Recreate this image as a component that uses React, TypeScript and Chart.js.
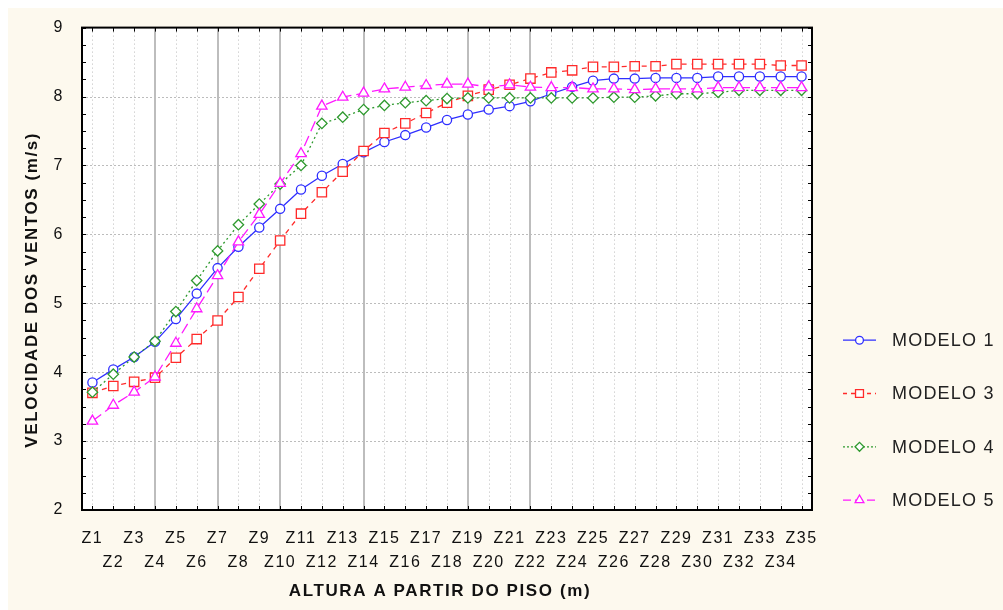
import React, { useEffect, useRef } from 'react';
import { Chart, registerables } from 'chart.js';
import { drawPoint } from 'chart.js/helpers';

Chart.register(...registerables);

const categories = ['Z1','Z2','Z3','Z4','Z5','Z6','Z7','Z8','Z9','Z10','Z11','Z12','Z13','Z14','Z15','Z16','Z17','Z18','Z19','Z20','Z21','Z22','Z23','Z24','Z25','Z26','Z27','Z28','Z29','Z30','Z31','Z32','Z33','Z34','Z35'];

const modelo1 = [3.85,4.04,4.22,4.44,4.77,5.14,5.51,5.82,6.10,6.37,6.65,6.85,7.02,7.19,7.34,7.44,7.55,7.66,7.74,7.81,7.86,7.93,8.04,8.14,8.23,8.26,8.26,8.27,8.27,8.27,8.29,8.29,8.29,8.29,8.29];
const modelo3 = [3.70,3.80,3.86,3.92,4.21,4.48,4.75,5.09,5.50,5.91,6.30,6.61,6.91,7.21,7.47,7.61,7.76,7.91,8.01,8.10,8.17,8.26,8.35,8.38,8.43,8.43,8.44,8.44,8.47,8.47,8.47,8.47,8.47,8.45,8.45];
const modelo4 = [3.71,3.97,4.22,4.45,4.88,5.33,5.76,6.14,6.44,6.73,7.00,7.61,7.70,7.81,7.87,7.91,7.94,7.97,7.98,7.98,7.98,7.98,7.98,7.98,7.98,7.99,7.99,8.01,8.04,8.04,8.06,8.09,8.09,8.09,8.09];
const modelo5 = [3.29,3.52,3.71,3.93,4.42,4.92,5.40,5.89,6.29,6.74,7.17,7.86,7.99,8.05,8.11,8.135,8.16,8.18,8.18,8.14,8.17,8.135,8.13,8.13,8.11,8.11,8.10,8.11,8.11,8.11,8.13,8.13,8.13,8.13,8.13];

const seriesNames = ['MODELO 1', 'MODELO 3', 'MODELO 4', 'MODELO 5'];
const floorLines = ['Z4', 'Z7', 'Z10', 'Z14', 'Z19', 'Z22'];
const yMin = 2;
const yMax = 9;
const xTitle = 'ALTURA A PARTIR DO PISO (m)';
const yTitle = 'VELOCIDADE DOS VENTOS (m/s)';

const FONT = '"Liberation Sans", Arial, Helvetica, sans-serif';
const CREAM = '#fdf9ee';

const styles = [
  { color: '#2f2fff', dash: [] as number[], legendDash: [] as number[], pointStyle: 'circle', radius: 4.6, width: 1.3 },
  { color: '#ff2a2a', dash: [5, 5], legendDash: [4, 4], pointStyle: 'rect', radius: 6.6, width: 1.3 },
  { color: '#2f9a2f', dash: [2, 3], legendDash: [2, 2], pointStyle: 'rectRot', radius: 5.2, width: 1.3 },
  { color: '#ff1aff', dash: [11, 5], legendDash: [8, 4], pointStyle: 'triangle', radius: 6, width: 1.3 },
];

const framePlugin = {
  id: 'framePlugin',
  beforeDraw(chart: any) {
    chart.ctx.letterSpacing = '1.5px';
  },
  beforeDatasetsDraw(chart: any) {
    const { ctx, chartArea: a, scales } = chart;
    const x = scales.x;
    const y = scales.y;
    ctx.save();
    ctx.fillStyle = '#ffffff';
    ctx.fillRect(a.left, a.top, a.right - a.left, a.bottom - a.top);
    ctx.lineWidth = 1;
    ctx.strokeStyle = '#bcbcbc';
    ctx.setLineDash([1, 3]);
    categories.forEach((c, i) => {
      if (floorLines.includes(c)) return;
      const px = Math.round(x.getPixelForValue(i)) + 0.5;
      ctx.beginPath();
      ctx.moveTo(px, a.top);
      ctx.lineTo(px, a.bottom);
      ctx.stroke();
    });
    ctx.setLineDash([2, 2]);
    for (let v = yMin + 1; v < yMax; v++) {
      const py = Math.round(y.getPixelForValue(v)) + 0.5;
      ctx.beginPath();
      ctx.moveTo(a.left, py);
      ctx.lineTo(a.right, py);
      ctx.stroke();
    }
    ctx.setLineDash([]);
    ctx.strokeStyle = '#bdbdbd';
    ctx.lineWidth = 2;
    categories.forEach((c, i) => {
      if (!floorLines.includes(c)) return;
      const px = Math.round(x.getPixelForValue(i));
      ctx.beginPath();
      ctx.moveTo(px, a.top);
      ctx.lineTo(px, a.bottom);
      ctx.stroke();
    });
    ctx.restore();
  },
  afterDatasetsDraw(chart: any) {
    const { ctx, chartArea: a, scales } = chart;
    const x = scales.x;
    const y = scales.y;
    ctx.save();
    ctx.strokeStyle = '#000';
    ctx.lineWidth = 1;
    ctx.setLineDash([]);
    const tl = 4;
    for (let v = yMin; v <= yMax + 1e-9; v += 0.25) {
      const py = Math.round(y.getPixelForValue(v)) + 0.5;
      ctx.beginPath();
      ctx.moveTo(a.left, py);
      ctx.lineTo(a.left + tl, py);
      ctx.moveTo(a.right, py);
      ctx.lineTo(a.right - tl, py);
      ctx.stroke();
    }
    categories.forEach((c, i) => {
      const px = Math.round(x.getPixelForValue(i)) + 0.5;
      ctx.beginPath();
      ctx.moveTo(px, a.top);
      ctx.lineTo(px, a.top + tl);
      ctx.moveTo(px, a.bottom);
      ctx.lineTo(px, a.bottom - tl);
      ctx.stroke();
    });
    ctx.lineWidth = 2;
    ctx.strokeRect(a.left, a.top, a.right - a.left, a.bottom - a.top);
    ctx.restore();
  },
  afterDraw(chart: any) {
    const { ctx, chartArea: a } = chart;
    ctx.save();
    // axis titles
    ctx.fillStyle = '#111';
    ctx.font = `bold 17px ${FONT}`;
    ctx.letterSpacing = '1.6px';
    ctx.textAlign = 'center';
    ctx.textBaseline = 'middle';
    ctx.fillText(xTitle, a.left + (a.right - a.left) / 2 - 7, a.bottom + 81);
    ctx.save();
    ctx.translate(24, a.top + (a.bottom - a.top) / 2 + 21);
    ctx.rotate(-Math.PI / 2);
    ctx.fillText(yTitle, 0, 0);
    ctx.restore();
    // legend
    ctx.font = `18px ${FONT}`;
    ctx.letterSpacing = '1.2px';
    ctx.textAlign = 'left';
    const lx = a.right + 31;
    const lineLen = 33;
    chart.data.datasets.forEach((ds: any, i: number) => {
      const st = styles[i];
      const ly = a.top + (a.bottom - a.top) * 0.648 + i * 53.3;
      ctx.strokeStyle = st.color;
      ctx.lineWidth = st.width;
      ctx.setLineDash(st.legendDash);
      ctx.beginPath();
      ctx.moveTo(lx, ly);
      ctx.lineTo(lx + lineLen, ly);
      ctx.stroke();
      ctx.setLineDash([]);
      ctx.fillStyle = '#fff';
      drawPoint(ctx, { pointStyle: st.pointStyle, radius: st.radius * 0.85, rotation: 0, borderWidth: st.width } as any, lx + lineLen / 2, ly);
      ctx.fillStyle = '#222';
      ctx.fillText(ds.label, lx + 49, ly + 1);
    });
    ctx.restore();
  },
};

export default function App() {
  const ref = useRef<HTMLCanvasElement>(null);
  useEffect(() => {
    if (!ref.current) return;
    const seriesData = [modelo1, modelo3, modelo4, modelo5];
    const chart = new Chart(ref.current, {
      type: 'line',
      data: {
        labels: categories,
        datasets: seriesData.map((d, i) => ({
          label: seriesNames[i],
          data: d,
          borderColor: styles[i].color,
          borderWidth: styles[i].width,
          borderDash: styles[i].dash,
          pointStyle: styles[i].pointStyle as any,
          pointRadius: styles[i].radius,
          pointBorderWidth: styles[i].width,
          pointBorderColor: styles[i].color,
          pointBackgroundColor: '#ffffff',
          fill: false,
          tension: 0,
          order: 4 - i,
        })),
      },
      options: {
        animation: false,
        responsive: false,
        devicePixelRatio: 1,
        layout: { padding: { left: 0, top: 19, right: 191, bottom: 0 } },
        plugins: {
          legend: { display: false },
          tooltip: { enabled: false },
          title: { display: false },
        },
        scales: {
          x: {
            type: 'category',
            offset: true,
            grid: { display: false },
            border: { display: false },
            ticks: {
              autoSkip: false,
              maxRotation: 0,
              minRotation: 0,
              padding: 9,
              color: '#111',
              font: { family: FONT, size: 16, lineHeight: 1.5 },
              callback: (value: any, index: number) => {
                const l = categories[index];
                return index % 2 === 0 ? [l, ''] : ['', l];
              },
            },
            afterFit: (s: any) => { s.height = 100; },
          },
          y: {
            min: yMin,
            max: yMax,
            grid: { display: false },
            border: { display: false },
            ticks: {
              stepSize: 1,
              padding: 10,
              color: '#111',
              font: { family: FONT, size: 16 },
            },
            afterFit: (s: any) => { s.width = 74; },
          },
        },
      },
      plugins: [framePlugin],
    });
    return () => chart.destroy();
  }, []);

  return (
    <div style={{ position: 'fixed', left: 0, top: 0, width: 1003, height: 610, background: '#ffffff', overflow: 'hidden' }}>
      <canvas
        ref={ref}
        width={995}
        height={602}
        style={{ position: 'absolute', left: 8, top: 8, width: 995, height: 602, background: CREAM, display: 'block' }}
      />
    </div>
  );
}
